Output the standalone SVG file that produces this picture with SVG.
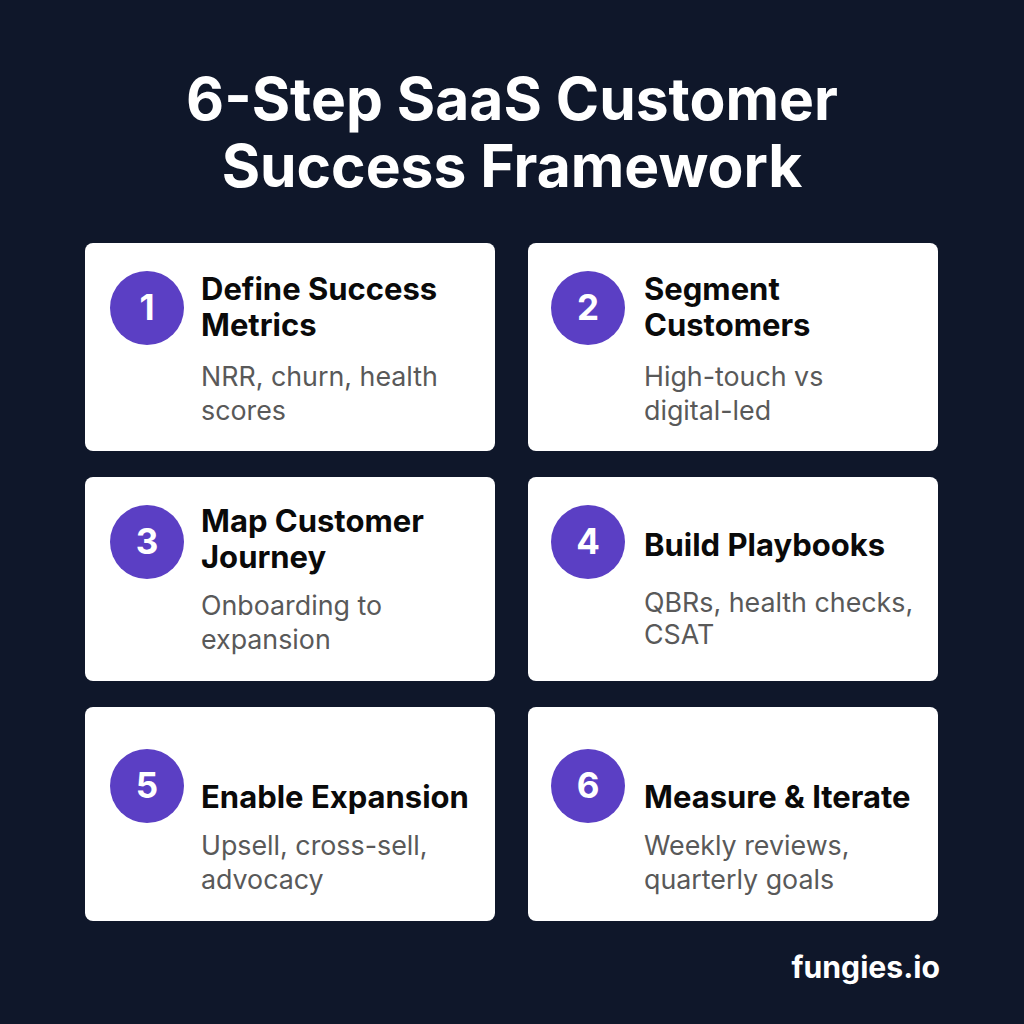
<svg xmlns="http://www.w3.org/2000/svg" width="1024" height="1024" viewBox="0 0 1024 1024">
<style>
.bg{fill:#0f172a}
.card{fill:#ffffff}
.badge{fill:#5b3fc4}
.num{font-family:Inter,"Liberation Sans",sans-serif;font-weight:700;font-size:35px;fill:#ffffff;text-anchor:middle}
.ttl{font-family:Inter,"Liberation Sans",sans-serif;font-weight:700;font-size:31px;fill:#0a0a0a}
.desc{font-family:Inter,"Liberation Sans",sans-serif;font-weight:400;font-size:26.8px;fill:#595959}
.head{font-family:Inter,"Liberation Sans",sans-serif;font-weight:700;font-size:58.7px;fill:#ffffff;text-anchor:middle}
.brand{font-family:Inter,"Liberation Sans",sans-serif;font-weight:700;font-size:30.2px;fill:#ffffff;text-anchor:end}
</style>
<rect class="bg" x="0" y="0" width="1024" height="1024"/>
<g id="title">
<text class="head" x="512" y="120">6-Step SaaS Customer</text>
<text class="head" x="512" y="187">Success Framework</text>
</g>
<g id="step1">
<rect class="card" x="85" y="243" width="410" height="208" rx="8"/>
<circle class="badge" cx="147" cy="308" r="37"/>
<text class="num" x="147" y="320">1</text>
<text class="ttl" x="201" y="300">Define Success</text>
<text class="ttl" x="201" y="336">Metrics</text>
<text class="desc" x="201" y="386">NRR, churn, health</text>
<text class="desc" x="201" y="420">scores</text>
</g>
<g id="step2">
<rect class="card" x="528" y="243" width="410" height="208" rx="8"/>
<circle class="badge" cx="588" cy="308" r="37"/>
<text class="num" x="588" y="320">2</text>
<text class="ttl" x="644" y="300">Segment</text>
<text class="ttl" x="644" y="336">Customers</text>
<text class="desc" x="644" y="386">High-touch vs</text>
<text class="desc" x="644" y="420">digital-led</text>
</g>
<g id="step3">
<rect class="card" x="85" y="477" width="410" height="204" rx="8"/>
<circle class="badge" cx="147" cy="542" r="37"/>
<text class="num" x="147" y="554">3</text>
<text class="ttl" x="201" y="532">Map Customer</text>
<text class="ttl" x="201" y="568">Journey</text>
<text class="desc" x="201" y="615">Onboarding to</text>
<text class="desc" x="201" y="649">expansion</text>
</g>
<g id="step4">
<rect class="card" x="528" y="477" width="410" height="204" rx="8"/>
<circle class="badge" cx="588" cy="542" r="37"/>
<text class="num" x="588" y="554">4</text>
<text class="ttl" x="644" y="556">Build Playbooks</text>
<text class="desc" x="644" y="612">QBRs, health checks,</text>
<text class="desc" x="644" y="644">CSAT</text>
</g>
<g id="step5">
<rect class="card" x="85" y="707" width="410" height="214" rx="8"/>
<circle class="badge" cx="147" cy="786" r="37"/>
<text class="num" x="147" y="798">5</text>
<text class="ttl" x="201" y="808">Enable Expansion</text>
<text class="desc" x="201" y="855">Upsell, cross-sell,</text>
<text class="desc" x="201" y="889">advocacy</text>
</g>
<g id="step6">
<rect class="card" x="528" y="707" width="410" height="214" rx="8"/>
<circle class="badge" cx="588" cy="786" r="37"/>
<text class="num" x="588" y="798">6</text>
<text class="ttl" x="644" y="808">Measure &amp; Iterate</text>
<text class="desc" x="644" y="855">Weekly reviews,</text>
<text class="desc" x="644" y="889">quarterly goals</text>
</g>
<g id="connectors"></g>
<text class="brand" x="940" y="978">fungies.io</text>
</svg>
